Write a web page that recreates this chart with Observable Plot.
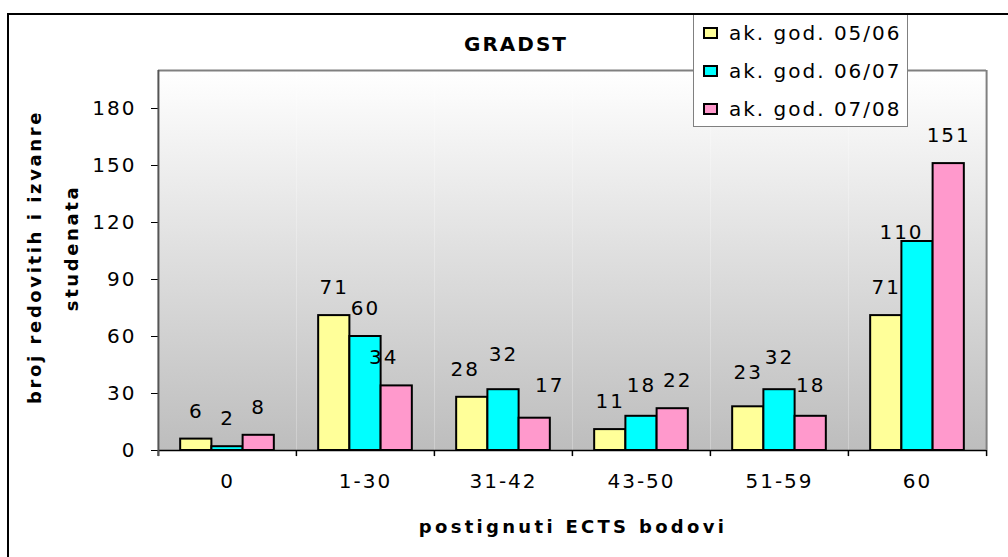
<!DOCTYPE html>
<html><head><meta charset="utf-8">
<script src="https://cdn.jsdelivr.net/npm/d3@7"></script>
<script src="https://cdn.jsdelivr.net/npm/@observablehq/plot@0.6"></script>
<style>
html,body{margin:0;padding:0;background:#fff;}
#wrap{position:relative;width:1008px;height:557px;overflow:hidden;font-family:"DejaVu Sans",sans-serif;color:#000;}
#chart{position:absolute;left:0;top:0;}
.lbl{position:absolute;white-space:nowrap;transform:translate(-50%,-50%);}
.vlbl{position:absolute;white-space:nowrap;transform:translate(-50%,-50%) rotate(-90deg);font-weight:bold;font-size:18px;letter-spacing:2.6px;line-height:1;}
#outer{position:absolute;left:7px;top:13px;right:-20px;bottom:-20px;border-left:2px solid #000;border-top:2px solid #000;pointer-events:none;z-index:3;}
#legend{position:absolute;left:693px;top:13px;width:213px;height:112px;border:1.5px solid #808080;background:#fff;z-index:2;}
.row{position:absolute;left:9px;height:22px;display:flex;align-items:center;font-size:20px;letter-spacing:2px;}
.sw{width:11px;height:8px;border:2px solid #000;margin-right:11px;}
</style></head><body>
<div id="wrap">
  <div id="chart"></div>
  <div id="legend"></div>
  <div id="outer"></div>
</div>
<script>
const categories = ["0", "1-30", "31-42", "43-50", "51-59", "60"];
const seriesNames = ["ak. god. 05/06", "ak. god. 06/07", "ak. god. 07/08"];
const seriesColors = ["#ffff99", "#00ffff", "#ff99cc"];
const values0506 = [6, 71, 28, 11, 23, 71];
const values0607 = [2, 60, 32, 18, 32, 110];
const values0708 = [8, 34, 17, 22, 18, 151];
const yTicks = [0, 30, 60, 90, 120, 150, 180];
const yDomain = [0, 200];
const titleText = "GRADST";
const xLabelText = "postignuti ECTS bodovi";
const yLabelLines = ["broj redovitih i izvanre", "studenata"];

// value-label nudges (layout only, px), keyed by "category|series index"
const labelNudge = {
  "1-30|2": [-13, 0],
  "31-42|0": [-7, 0],
  "31-42|1": [0, -7],
  "31-42|2": [15, -5],
  "43-50|1": [0, -3],
  "43-50|2": [5, 0],
  "51-59|0": [0, -6],
  "51-59|1": [0, -4],
  "51-59|2": [0, -3],
  "60|1": [-16, 19]
};

const seriesValues = [values0506, values0607, values0708];
const data = categories.flatMap((c, i) =>
  seriesNames.map((s, j) => ({cat: c, series: s, si: j, value: seriesValues[j][i]})));

const W = 1008, H = 557, mL = 157, mR = 21, mT = 70, mB = 107;
const po = 0.71;
const facetW = (W - mL - mR) / categories.length;
const step = facetW / (seriesNames.length + 2 * po);
const edge = (po + 0.5) * step;
const firstCat = categories[0];
const lastCat = categories[categories.length - 1];
const firstSeries = seriesNames[0];
const lastSeries = seriesNames[seriesNames.length - 1];
const baseDy = -28;

const labelMarks = data.map(d => {
  const [nx, ny] = labelNudge[d.cat + "|" + d.si] || [0, 0];
  return Plot.text([d], {fx: "cat", x: "series", y: "value", text: e => String(e.value), dx: nx, dy: baseDy + ny, fill: "#000"});
});

const chart = Plot.plot({
  width: W, height: H,
  marginLeft: mL, marginRight: mR, marginTop: mT, marginBottom: mB,
  style: {fontFamily: "DejaVu Sans", fontSize: "20px", letterSpacing: "2px", color: "#000", background: "transparent", overflow: "visible"},
  fx: {domain: categories, padding: 0, axis: "bottom", tickSize: 0, tickPadding: 23, label: null},
  x: {domain: seriesNames, paddingInner: 0, paddingOuter: po, round: false, axis: null},
  y: {domain: yDomain, ticks: yTicks, tickSize: 7, tickPadding: 15, label: null},
  color: {domain: seriesNames, range: seriesColors},
  marks: [
    Plot.frame({fill: "url(#plotBg)", stroke: "none"}),
    Plot.ruleY([yDomain[1]], {stroke: "#808080", strokeWidth: 2}),
    Plot.barY(data, {fx: "cat", x: "series", y: "value", fill: "series", stroke: "#000", strokeWidth: 2}),
    ...labelMarks,
    Plot.ruleY([0], {stroke: "#000", strokeWidth: 1.5}),
    Plot.ruleX(categories, {fx: d => d, x: () => firstSeries, dx: -edge, y1: 0, y2: -3.2, stroke: "#000", strokeWidth: 1.5}),
    Plot.ruleX([lastCat], {fx: d => d, x: () => lastSeries, dx: edge, y1: 0, y2: -3.2, stroke: "#000", strokeWidth: 1.5}),
    Plot.ruleX([lastCat], {fx: d => d, x: () => lastSeries, dx: edge, y1: 0, y2: yDomain[1], stroke: "#808080", strokeWidth: 2}),
    Plot.ruleX([firstCat], {fx: d => d, x: () => firstSeries, dx: -edge, y1: -3.2, y2: yDomain[1], stroke: "#555555", strokeWidth: 2})
  ]
});

const svgNS = "http://www.w3.org/2000/svg";
const svgEl = chart.tagName.toLowerCase() === "svg" ? chart : chart.querySelector("svg");
const defs = document.createElementNS(svgNS, "defs");
const grad = document.createElementNS(svgNS, "linearGradient");
grad.setAttribute("id", "plotBg");
grad.setAttribute("x1", "0"); grad.setAttribute("y1", "0");
grad.setAttribute("x2", "0"); grad.setAttribute("y2", "1");
[["0", "#ffffff"], ["1", "#bdbdbd"]].forEach(([o, c]) => {
  const st = document.createElementNS(svgNS, "stop");
  st.setAttribute("offset", o); st.setAttribute("stop-color", c);
  grad.appendChild(st);
});
defs.appendChild(grad);
svgEl.insertBefore(defs, svgEl.firstChild);
document.getElementById("chart").appendChild(chart);

const wrap = document.getElementById("wrap");
function addLabel(text, x, y, cls, css) {
  const d = document.createElement("div");
  d.className = cls; d.textContent = text;
  d.style.left = x + "px"; d.style.top = y + "px";
  Object.assign(d.style, css || {});
  wrap.appendChild(d);
  return d;
}
addLabel(titleText, 516, 44, "lbl", {fontWeight: "bold", fontSize: "20px", letterSpacing: "2px"});
addLabel(xLabelText, 573, 526, "lbl", {fontWeight: "bold", fontSize: "18px", letterSpacing: "3.3px"});
addLabel(yLabelLines[0], 35, 257, "vlbl");
addLabel(yLabelLines[1], 72, 248, "vlbl");

const legend = document.getElementById("legend");
seriesNames.forEach((s, i) => {
  const r = document.createElement("div");
  r.className = "row";
  r.style.top = (8 + i * 38) + "px";
  const sw = document.createElement("div");
  sw.className = "sw"; sw.style.background = seriesColors[i];
  const t = document.createElement("span");
  t.textContent = s;
  r.appendChild(sw); r.appendChild(t);
  legend.appendChild(r);
});
</script>
</body></html>
